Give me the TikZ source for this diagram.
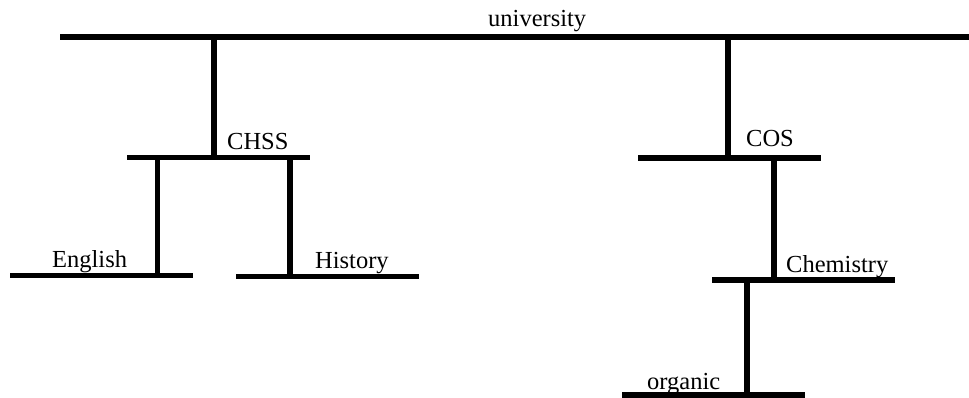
\documentclass[tikz,border=0pt]{standalone}
\usepackage{fontspec}
\setmainfont{Liberation Serif}
\usepackage{tikz}
\usetikzlibrary{calc}
\newcommand{\barwidth}{183pt}
\newcommand{\barthickness}{5.5pt}
\newcommand{\labelsize}{\fontsize{24.5}{29}\selectfont}

\begin{document}
\begin{tikzpicture}[x=1pt,y=-1pt]
\tikzstyle{bar}=[fill=black,draw=none,inner sep=0pt,outer sep=0pt,minimum width=\barwidth,minimum height=\barthickness]
\tikzstyle{stem}=[line width=\barthickness]
\tikzstyle{lbl}=[font=\labelsize,anchor=base west,inner sep=0pt]

\useasboundingbox (0,0) rectangle (969,398);

%% bars
\node (univ)      [bar, minimum width=909pt] at (514.5,37) {};
\node (chss)      [bar] at (218,157.5) {};
\node (cos)       [bar] at (729.5,158) {};
\node (english)   [bar] at (101.5,275.5) {};
\node (history)   [bar] at (327.5,276.5) {};
\node (chemistry) [bar] at (803.5,280) {};
\node (organic)   [bar] at (713.5,395) {};

%% labels
\node (univlbl)      [lbl] at (488,27) {university};
\node (chsslbl)      [lbl] at (227,150) {CHSS};
\node (coslbl)       [lbl] at (746,147) {COS};
\node (englishlbl)   [lbl] at (52,267) {English};
\node (historylbl)   [lbl] at (315,268) {History};
\node (chemistrylbl) [lbl] at (786,272) {Chemistry};
\node (organiclbl)   [lbl] at (647,389) {organic};

%% stems, xshift to match the drop point
\draw[stem] ([xshift=-4pt]chss.center) -- ([xshift=-4pt]chss.center |- univ.center);
\draw[stem] ([xshift=-1.5pt]cos.center) -- ([xshift=-1.5pt]cos.center |- univ.center);
\draw[stem] ([xshift=56pt]english.center) -- ([xshift=56pt]english.center |- chss.center);
\draw[stem] ([xshift=-37.5pt]history.center) -- ([xshift=-37.5pt]history.center |- chss.center);
\draw[stem] ([xshift=-29.5pt]chemistry.center) -- ([xshift=-29.5pt]chemistry.center |- cos.center);
\draw[stem] ([xshift=33.5pt]organic.center) -- ([xshift=33.5pt]organic.center |- chemistry.center);

\end{tikzpicture}
\end{document}
